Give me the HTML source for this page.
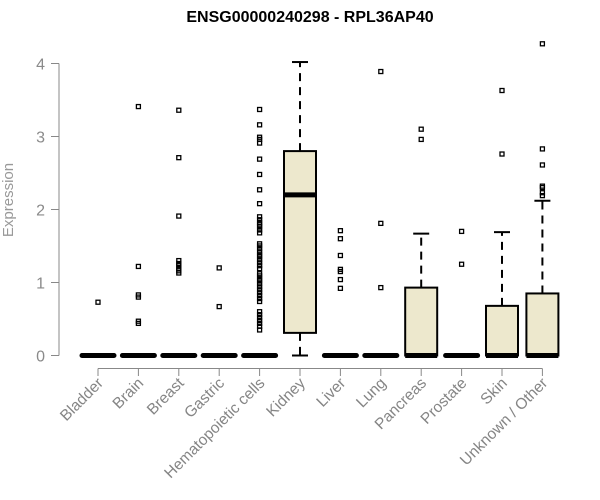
<!DOCTYPE html>
<html><head><meta charset="utf-8"><style>body{margin:0;background:#fff}svg{display:block}</style></head><body>
<svg id="chart" width="600" height="500" xmlns="http://www.w3.org/2000/svg" font-family="Liberation Sans, Arial, sans-serif">
<text x="310" y="22" text-anchor="middle" font-weight="bold" font-size="16">ENSG00000240298 - RPL36AP40</text>
<text transform="translate(13,200) rotate(-90)" text-anchor="middle" font-size="15" fill="#999">Expression</text>
<g id="plot"></g>
</svg>
<script>
const categories=["Bladder","Brain","Breast","Gastric","Hematopoietic cells","Kidney","Liver","Lung","Pancreas","Prostate","Skin","Unknown / Other"];
const q1=[0,0,0,0,0,0.31,0,0,0,0,0,0];
const med=[0,0,0,0,0,2.2,0,0,0,0,0,0];
const q3=[0,0,0,0,0,2.8,0,0,0.93,0,0.68,0.85];
const whiskLo=[0,0,0,0,0,0,0,0,0,0,0,0];
const whiskHi=[0,0,0,0,0,4.02,0,0,1.67,0,1.69,2.12];
const outliers=[[0.73],[3.41,1.22,0.83,0.8,0.47,0.44],[3.36,2.71,1.91,1.3,1.26,1.23,1.19,1.16,1.13],[1.2,0.67],
[3.37,3.16,2.99,2.96,2.91,2.69,2.48,2.27,2.08,1.9,1.86,1.82,1.79,1.76,1.72,1.68,1.53,1.5,1.46,1.42,1.38,1.35,1.31,1.27,1.23,1.19,1.12,1.09,1.05,1.02,0.98,0.94,0.9,0.86,0.82,0.78,0.74,0.6,0.56,0.52,0.48,0.44,0.4,0.35],
[],[1.71,1.6,1.37,1.18,1.15,1.04,0.92],[3.89,1.81,0.93],[3.1,2.96],[1.7,1.25],[3.63,2.76],[4.27,2.83,2.61,2.32,2.3,2.23,2.19]];
const yTicks=[0,1,2,3,4];
const NS="http://www.w3.org/2000/svg";
const g=document.getElementById('plot');
const xS=i=>98+i*40.4;
const yS=v=>355.5-v*73;
function mk(t,a){const e=document.createElementNS(NS,t);for(const k in a)e.setAttribute(k,a[k]);g.appendChild(e);return e;}
let ax=mk('line',{x1:59,x2:59,y1:yS(0),y2:yS(4),stroke:'#888'});


yTicks.forEach(v=>{
 const t=mk('line',{x1:51,x2:59,y1:yS(v),y2:yS(v),stroke:'#888'});
 
 
 const l=mk('text',{x:45,y:yS(v)+6,'text-anchor':'end','font-size':16,fill:'#8a8a8a'});
 l.textContent=v;
 
 
});
let xa=mk('line',{x1:xS(0),x2:xS(categories.length-1),y1:368.5,y2:368.5,stroke:'#888'});


const hw=16;
categories.forEach((c,i)=>{
 const x=xS(i);
 const t=mk('line',{x1:x,x2:x,y1:368.5,y2:376,stroke:'#888'});
 
 
 const l=mk('text',{transform:`translate(${x+6},${384}) rotate(-45)`,'text-anchor':'end','font-size':15.5,fill:'#858585'});
 l.textContent=c;
 
 
 const bg=document.createElementNS(NS,'g');g.appendChild(bg);
 
 
 const add=(tag,a)=>{const e=document.createElementNS(NS,tag);for(const k in a)e.setAttribute(k,a[k]);bg.appendChild(e);return e;};
 if(whiskHi[i]>q3[i]){
  add('line',{x1:x,x2:x,y1:yS(q3[i]),y2:yS(whiskHi[i]),stroke:'#000','stroke-width':2,'stroke-dasharray':'8,6'});
  add('line',{x1:x-8,x2:x+8,y1:yS(whiskHi[i]),y2:yS(whiskHi[i]),stroke:'#000','stroke-width':2});
 }
 if(q1[i]>whiskLo[i]){
  add('line',{x1:x,x2:x,y1:yS(q1[i]),y2:yS(whiskLo[i]),stroke:'#000','stroke-width':2,'stroke-dasharray':'8,6'});
  add('line',{x1:x-8,x2:x+8,y1:yS(whiskLo[i]),y2:yS(whiskLo[i]),stroke:'#000','stroke-width':2});
 }
 if(q3[i]>q1[i]) add('rect',{x:x-hw,y:yS(q3[i]),width:hw*2,height:yS(q1[i])-yS(q3[i]),fill:'#ede8cd',stroke:'#000','stroke-width':2});
 add('line',{x1:x-hw,x2:x+hw,y1:yS(med[i]),y2:yS(med[i]),stroke:'#000','stroke-width':5,'stroke-linecap':q3[i]>q1[i]?'butt':'round'});
 outliers[i].forEach(v=>{
  const o=add('rect',{x:x-2,y:yS(v)-2,width:4,height:4,fill:'none',stroke:'#000','stroke-width':1.3});
  
  
 });
});
</script>
</body></html>
